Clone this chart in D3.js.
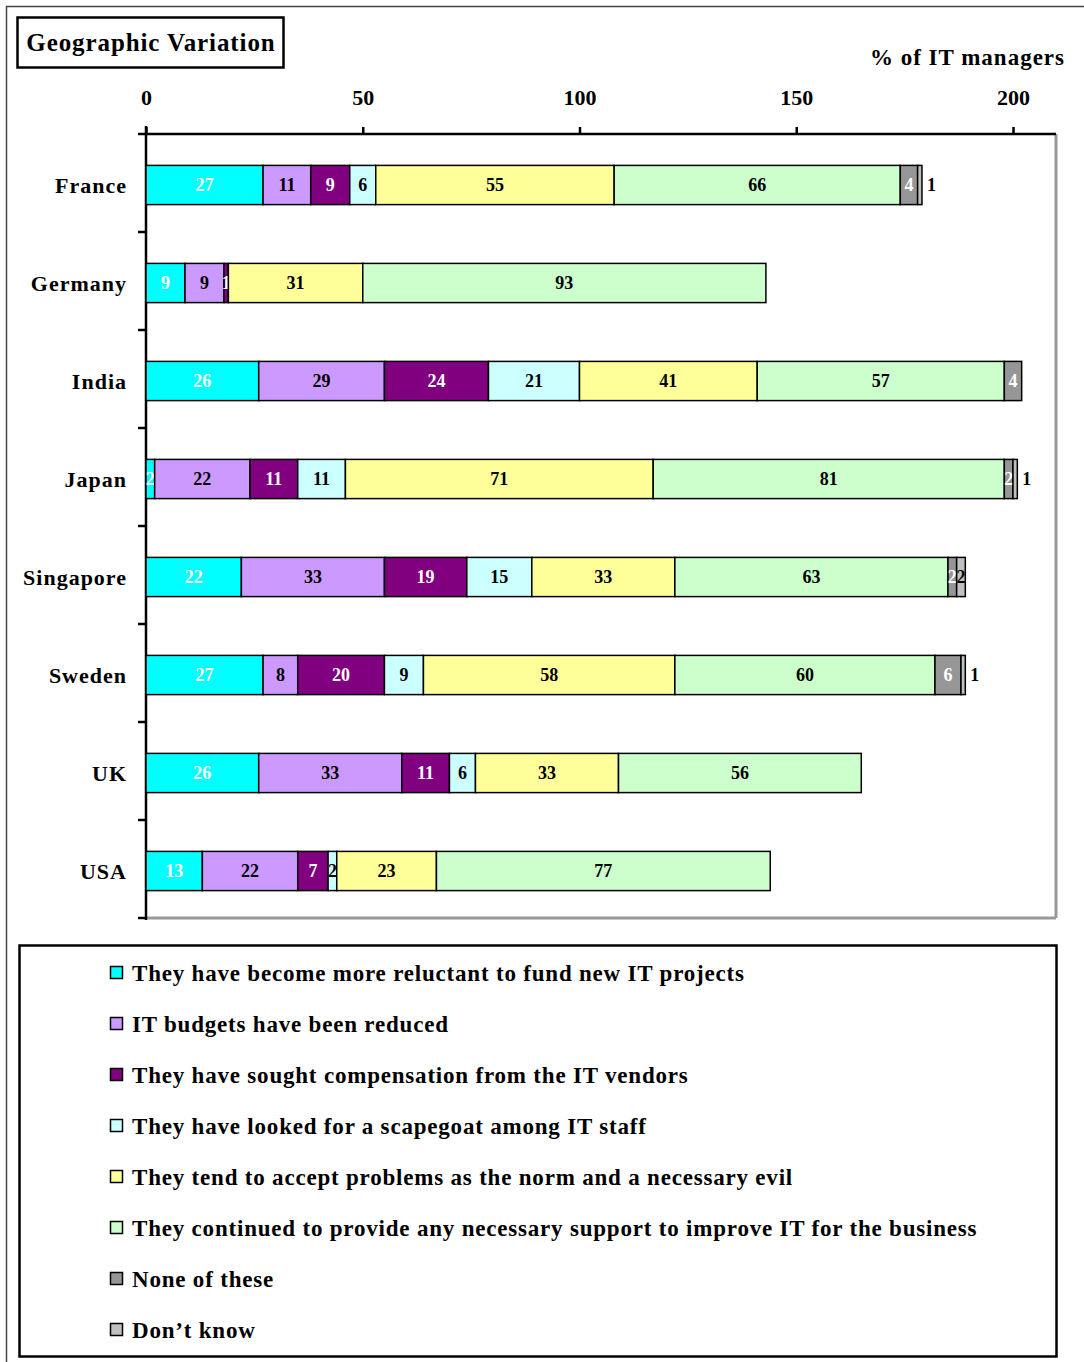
<!DOCTYPE html>
<html>
  <head>
    <title>Geographic Variation</title>
    <script src="https://d3js.org/d3.v7.min.js"></script>
    <style>
      body { margin: 0; background: #fff; }
      svg { font-family: "Liberation Serif", "Times New Roman", serif; font-weight: bold; }
      .seg { stroke: #000; stroke-width: 1.5; }
    </style>
  </head>
  <body>
    <svg id="chart" width="1084" height="1362"></svg>

    <script>
      var countries = ["France", "Germany", "India", "Japan", "Singapore", "Sweden", "UK", "USA"];
      var seriesNames = [
        "They have become more reluctant to fund new IT projects",
        "IT budgets have been reduced",
        "They have sought compensation from the IT vendors",
        "They have looked for a scapegoat among IT staff",
        "They tend to accept problems as the norm and a necessary evil",
        "They continued to provide any necessary support to improve IT for the business",
        "None of these",
        "Don\u2019t know"
      ];
      var seriesColors = ["#00ffff", "#cc99ff", "#800080", "#ccffff", "#ffff99", "#ccffcc", "#969696", "#c0c0c0"];
      var labelColors = ["#fff", "#000", "#fff", "#000", "#000", "#000", "#fff", "#000"];

      // one array per series, in country order
      var reluctant   = [27, 9, 26, 2, 22, 27, 26, 13];
      var reduced     = [11, 9, 29, 22, 33, 8, 33, 22];
      var compensate  = [9, 1, 24, 11, 19, 20, 11, 7];
      var scapegoat   = [6, 0, 21, 11, 15, 9, 6, 2];
      var acceptNorm  = [55, 31, 41, 71, 33, 58, 33, 23];
      var support     = [66, 93, 57, 81, 63, 60, 56, 77];
      var noneOfThese = [4, 0, 4, 2, 2, 6, 0, 0];
      var dontKnow    = [1, 0, 0, 1, 2, 1, 0, 0];
      var xTicks = [0, 50, 100, 150, 200];

      var seriesValues = [reluctant, reduced, compensate, scapegoat, acceptNorm, support, noneOfThese, dontKnow];

      var svg = d3.select("#chart");

      // outer frame
      svg.append("line").attr("x1", 6.5).attr("x2", 6.5).attr("y1", 6).attr("y2", 1362)
        .attr("stroke", "#444").attr("stroke-width", 1.5);
      svg.append("line").attr("x1", 6).attr("x2", 1084).attr("y1", 6.5).attr("y2", 6.5)
        .attr("stroke", "#444").attr("stroke-width", 1.5);

      // title
      svg.append("rect").attr("x", 17.5).attr("y", 17.5).attr("width", 266).attr("height", 50)
        .attr("fill", "none").attr("stroke", "#000").attr("stroke-width", 2.5);
      svg.append("text").attr("x", 151).attr("y", 51).attr("text-anchor", "middle")
        .style("font-size", "25px").style("letter-spacing", "0.9px").text("Geographic Variation");

      svg.append("text").attr("x", 1065).attr("y", 65).attr("text-anchor", "end")
        .style("font-size", "23px").style("letter-spacing", "1px").text("% of IT managers");

      var plotLeft = 146, plotRight = 1056, plotTop = 134, plotBottom = 918;

      var x = d3.scaleLinear().domain([0, 200]).range([plotLeft, 1013]);
      var y = d3.scaleBand().domain(countries).range([plotTop, plotBottom])
        .paddingInner(0.6).paddingOuter(0.3);
      var barShift = 2;

      // plot frame (grey right / bottom)
      svg.append("line").attr("x1", plotRight).attr("x2", plotRight).attr("y1", plotTop).attr("y2", plotBottom)
        .attr("stroke", "#999").attr("stroke-width", 3);
      svg.append("line").attr("x1", plotLeft).attr("x2", plotRight).attr("y1", plotBottom).attr("y2", plotBottom)
        .attr("stroke", "#999").attr("stroke-width", 3);

      // top axis
      var xAxis = d3.axisTop(x).tickValues(xTicks).tickSize(7).tickPadding(22);
      var gx = svg.append("g").attr("transform", "translate(0," + plotTop + ")").call(xAxis);
      gx.select(".domain").remove();
      gx.append("line").attr("x1", 138).attr("x2", plotRight).attr("stroke", "#000").attr("stroke-width", 2.5);
      gx.selectAll(".tick line").attr("stroke", "#000").attr("stroke-width", 2.5);
      gx.selectAll(".tick text").attr("fill", "#000")
        .style("font-size", "22px").style("font-family", "Liberation Serif, serif").style("font-weight", "bold");

      // left axis with boundary ticks
      svg.append("line").attr("x1", plotLeft).attr("x2", plotLeft).attr("y1", plotTop - 8).attr("y2", plotBottom + 2)
        .attr("stroke", "#000").attr("stroke-width", 2.5);
      var boundaries = countries.map(function(c) { return y(c) + y.bandwidth() + y.step() * 0.3; });
      svg.selectAll("line.ytick").data(boundaries).enter().append("line")
        .attr("class", "ytick")
        .attr("x1", 138).attr("x2", plotLeft).attr("y1", d => d).attr("y2", d => d)
        .attr("stroke", "#000").attr("stroke-width", 2.5);

      svg.selectAll("text.cat").data(countries).enter().append("text")
        .attr("class", "cat")
        .attr("x", 127).attr("y", d => y(d) + barShift + y.bandwidth() / 2 + 8)
        .attr("text-anchor", "end").style("font-size", "22px").style("letter-spacing", "1px").text(d => d);

      // stacked segments
      var stackData = countries.map(function(c, i) {
        var row = { country: c };
        seriesNames.forEach(function(s, j) { row[s] = seriesValues[j][i]; });
        return row;
      });
      var stack = d3.stack().keys(seriesNames)(stackData);

      var layers = svg.selectAll("g.layer").data(stack).enter().append("g")
        .attr("class", "layer");

      layers.each(function(layer, j) {
        var g = d3.select(this);
        var segs = layer.filter(d => d[1] - d[0] > 0);
        g.selectAll("rect").data(segs).enter().append("rect")
          .attr("class", "seg")
          .attr("x", d => x(d[0]))
          .attr("y", d => y(d.data.country) + barShift)
          .attr("width", d => x(d[1]) - x(d[0]))
          .attr("height", y.bandwidth())
          .attr("fill", seriesColors[j]);
        g.selectAll("text").data(segs).enter().append("text")
          .attr("x", function(d) {
            var v = d[1] - d[0];
            if (j === 7 && v <= 1) return x(d[1]) + 5;
            return (x(d[0]) + x(d[1])) / 2;
          })
          .attr("y", d => y(d.data.country) + barShift + y.bandwidth() / 2 + 6)
          .attr("text-anchor", d => (j === 7 && d[1] - d[0] <= 1) ? "start" : "middle")
          .attr("fill", d => (j === 7 && d[1] - d[0] <= 1) ? "#000" : labelColors[j])
          .style("font-size", "18px")
          .text(d => d[1] - d[0]);
      });

      // legend
      svg.append("rect").attr("x", 19.5).attr("y", 945.5).attr("width", 1037).attr("height", 411)
        .attr("fill", "none").attr("stroke", "#000").attr("stroke-width", 2.5);
      var legend = svg.selectAll("g.leg").data(seriesNames).enter().append("g")
        .attr("class", "leg")
        .attr("transform", (d, i) => "translate(110," + (973 + i * 51) + ")");
      legend.append("rect").attr("x", 0.5).attr("y", -6.5).attr("width", 12).attr("height", 12)
        .attr("fill", (d, i) => seriesColors[i]).attr("stroke", "#000").attr("stroke-width", 1.5);
      legend.append("text").attr("x", 22).attr("y", 8).style("font-size", "23px")
        .style("letter-spacing", "0.8px").text(d => d);
    </script>
  </body>
</html>
